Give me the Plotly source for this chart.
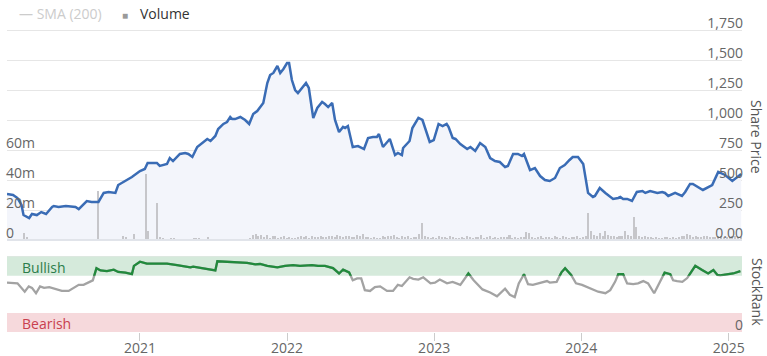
import plotly.graph_objects as go
import pandas as pd

# ---------------- data ----------------
price_dates = [
    "2020-02-06","2020-02-21","2020-03-03","2020-03-13","2020-03-18","2020-04-01","2020-04-08","2020-04-20",
    "2020-05-01","2020-05-13","2020-05-28","2020-06-01","2020-06-13","2020-07-01","2020-07-25","2020-08-02",
    "2020-08-22","2020-09-03","2020-09-20","2020-10-03","2020-10-15","2020-11-01","2020-11-08","2020-11-26",
    "2020-12-12","2021-01-01","2021-01-13","2021-01-20","2021-02-12","2021-02-19","2021-03-09","2021-03-16",
    "2021-03-24","2021-04-10","2021-04-23","2021-05-01","2021-05-11","2021-05-23","2021-06-04","2021-06-17",
    "2021-06-25","2021-07-07","2021-07-14","2021-07-27","2021-08-05","2021-08-13","2021-08-18","2021-08-25",
    "2021-09-07","2021-09-19","2021-09-29","2021-10-09","2021-10-19","2021-10-26","2021-11-03","2021-11-13",
    "2021-11-20","2021-11-28","2021-12-08","2021-12-15","2021-12-23","2022-01-01","2022-01-06","2022-01-13",
    "2022-01-21","2022-01-28","2022-02-07","2022-02-17","2022-02-24","2022-03-07","2022-03-17","2022-03-29",
    "2022-04-05","2022-04-13","2022-04-23","2022-04-30","2022-05-10","2022-05-20","2022-05-25","2022-06-01",
    "2022-06-13","2022-06-26","2022-07-11","2022-07-21","2022-08-02","2022-08-12","2022-08-17","2022-08-27",
    "2022-09-13","2022-09-26","2022-10-03","2022-10-13","2022-10-16","2022-11-01","2022-11-08","2022-11-23",
    "2022-12-03","2022-12-11","2022-12-21","2022-12-31","2023-01-12","2023-01-22","2023-02-01","2023-02-06",
    "2023-02-16","2023-02-23","2023-03-07","2023-03-24","2023-04-01","2023-04-13","2023-04-25","2023-05-08",
    "2023-05-20","2023-06-01","2023-06-13","2023-06-26","2023-07-03","2023-07-16","2023-07-28","2023-08-07",
    "2023-08-12","2023-08-27","2023-09-08","2023-09-21","2023-10-03","2023-10-15","2023-10-28","2023-11-09",
    "2023-11-21","2023-12-03","2023-12-11","2023-12-24","2024-01-03","2024-01-06","2024-01-18","2024-01-30",
    "2024-02-04","2024-02-16","2024-03-01","2024-03-20","2024-04-02","2024-04-07","2024-04-14","2024-04-24",
    "2024-05-06","2024-05-18","2024-06-01","2024-06-08","2024-06-20","2024-06-28","2024-07-08","2024-07-20",
    "2024-07-27","2024-08-04","2024-08-21","2024-09-07","2024-09-15","2024-09-27","2024-10-04","2024-10-29",
    "2024-11-21","2024-12-06","2024-12-23","2025-01-10","2025-01-22","2025-02-01",
]
price_values = [
    383, 375, 350, 292, 208, 183, 217, 208,
    233, 217, 275, 283, 275, 283, 275, 258,
    325, 317, 317, 392, 400, 392, 458, 492,
    525, 575, 592, 642, 642, 617, 633, 683,
    658, 717, 725, 717, 692, 775, 808, 842,
    825, 867, 925, 967, 983, 1025, 1008, 1008,
    1025, 1000, 967, 1050, 1075, 1108, 1142, 1308,
    1375, 1392, 1450, 1392, 1425, 1475, 1475, 1333,
    1250, 1225, 1267, 1308, 1267, 1017, 1100, 1150,
    1133, 1108, 1142, 1000, 900, 942, 933, 950,
    775, 783, 758, 850, 858, 858, 883, 775,
    842, 708, 725, 708, 767, 825, 933, 1017,
    1000, 917, 817, 833, 967, 950, 967, 942,
    850, 842, 800, 758, 775, 742, 808, 775,
    683, 658, 650, 608, 617, 717, 717, 700,
    717, 583, 600, 533, 500, 492, 517, 600,
    625, 667, 692, 692, 642, 633, 392, 358,
    367, 433, 392, 342, 350, 358, 342, 342,
    325, 400, 408, 392, 408, 400, 392, 400,
    392, 367, 392, 367, 400, 467, 467, 417,
    458, 567, 542, 492, 525, 550,
]

volume_start = "2020-02-07"   # weekly bars
volume_m = [
    0, 0, 0, 0, 0, 0, 4.7, 2.0, 0, 0,
    0, 0, 0, 0, 0, 0, 0, 0, 0, 0,
    0, 0, 0, 0, 0, 0, 0, 0, 0, 0,
    0, 0, 33, 0, 0, 0.6, 0, 0, 0, 0,
    0, 3.0, 2.2, 0, 0, 4.0, 0, 0, 0, 44,
    6.0, 0, 0, 25, 2.0, 1.0, 0, 0, 1.5, 1.2,
    0, 0, 0, 0, 0, 0, 1.0, 1.2, 0.8, 0,
    0, 2.0, 0, 0.5, 0, 0, 0, 0, 0, 0,
    0, 0, 0, 0, 0, 0, 1.5, 3.3, 4.0, 2.5,
    3.3, 2.0, 3.5, 1.5, 2.8, 3.0, 1.2, 2.0, 2.5, 1.5,
    2.0, 1.5, 1.2, 2.0, 2.5, 1.8, 2.5, 1.5, 3.0, 2.2,
    2.0, 2.5, 1.8, 2.2, 3.0, 2.5, 2.0, 3.2, 2.8, 2.0,
    2.5, 3.0, 2.2, 2.0, 3.5, 2.5, 4.0, 2.2, 2.0, 1.5,
    2.0, 1.0, 1.5, 2.5, 2.0, 3.0, 2.5, 3.5, 2.0, 1.5,
    3.0, 2.0, 2.5, 1.5, 1.8, 2.2, 4.0, 11.5, 2.5, 2.0,
    1.5, 2.0, 1.2, 2.5, 1.8, 2.0, 1.0, 2.5, 2.0, 1.5,
    1.2, 2.0, 1.5, 3.0, 1.8, 1.5, 2.0, 2.2, 3.5, 1.5,
    2.0, 3.0, 1.5, 2.0, 1.2, 1.8, 2.2, 2.0, 3.5, 1.5,
    2.0, 1.2, 1.8, 2.2, 5.5, 5.0, 2.0, 1.5, 1.8, 2.5,
    1.5, 2.0, 1.8, 1.2, 2.5, 2.0, 1.5, 3.0, 2.2, 1.5,
    2.0, 1.8, 2.5, 1.5, 2.0, 2.5, 18, 6.0, 3.5, 2.5,
    4.5, 3.0, 6.0, 3.5, 2.5, 3.0, 2.2, 3.0, 2.5, 6.0,
    3.5, 2.5, 15.5, 9.0, 3.0, 2.0, 2.5, 1.8, 2.0, 1.5,
    2.0, 1.5, 1.2, 2.0, 1.8, 1.5, 2.2, 1.5, 2.0, 2.5,
    3.0, 4.0, 3.5, 2.0, 2.5, 1.8, 2.0, 3.0, 2.5, 2.2,
    2.0, 1.8, 2.5, 3.0, 2.0, 2.2, 1.8, 2.5, 3.0, 2.0, 2.2,
]
volume_dates = pd.date_range(volume_start, periods=len(volume_m), freq="7D")
volume_values = [v * 1e6 for v in volume_m]

rank_dates = [
    "2020-02-06","2020-03-03","2020-03-21","2020-03-31","2020-04-08","2020-04-18","2020-04-28","2020-05-08",
    "2020-05-21","2020-06-01","2020-06-21","2020-07-08","2020-07-21","2020-08-02","2020-08-14","2020-08-27",
    "2020-09-06","2020-09-15","2020-09-25","2020-10-11","2020-10-28","2020-11-08","2020-11-26","2020-12-12",
    "2020-12-17","2021-01-01","2021-01-18","2021-02-12","2021-03-09","2021-04-03","2021-05-06","2021-05-13",
    "2021-06-07","2021-07-07","2021-07-12","2021-08-21","2021-09-24","2021-10-14","2021-10-26","2021-11-13",
    "2021-12-08","2021-12-27","2022-01-16","2022-02-02","2022-03-04","2022-03-19","2022-04-05","2022-04-25",
    "2022-05-10","2022-05-20","2022-06-04","2022-06-13","2022-06-24","2022-07-04","2022-07-13","2022-07-26",
    "2022-08-07","2022-08-20","2022-09-06","2022-09-21","2022-10-03","2022-10-13","2022-11-01","2022-11-10",
    "2022-11-23","2022-12-05","2022-12-23","2023-01-03","2023-01-15","2023-02-02","2023-02-16","2023-03-07",
    "2023-03-27","2023-04-09","2023-05-01","2023-05-20","2023-06-06","2023-06-26","2023-07-08","2023-07-20",
    "2023-07-30","2023-08-12","2023-08-22","2023-09-03","2023-09-21","2023-10-08","2023-10-15","2023-11-01",
    "2023-11-13","2023-11-22","2023-12-07","2023-12-19","2024-01-03","2024-01-23","2024-02-12","2024-03-01",
    "2024-03-13","2024-03-25","2024-04-02","2024-04-14","2024-04-24","2024-05-09","2024-05-21","2024-06-03",
    "2024-06-15","2024-06-30","2024-07-12","2024-07-26","2024-08-09","2024-08-16","2024-08-26","2024-09-08",
    "2024-09-20","2024-10-10","2024-10-27","2024-11-11","2024-11-24","2024-12-04","2024-12-11","2024-12-28",
    "2025-01-12","2025-01-30",
]
rank_values = [
    65, 64, 53, 60, 58, 51, 60, 58,
    59, 57, 54, 54, 58, 62, 62, 66,
    68, 84, 81, 80, 82, 79, 78, 76,
    87, 92.5, 90, 90, 90, 88, 85, 86,
    84, 81, 93, 92, 91, 89, 89.5, 87,
    85, 87, 88, 87, 88, 87, 87, 84,
    77, 82, 78.5, 68, 70.5, 70.5, 55, 54,
    59, 60, 54, 54, 62, 60.5, 72, 70,
    69, 72, 64, 65, 69, 64, 66, 62,
    77, 68, 56, 52, 47, 57, 49, 46,
    64, 76, 63, 62, 65, 67, 65, 66,
    78.5, 84, 75, 64, 62, 58, 53, 51,
    55, 66, 76, 76, 64, 63, 64, 67,
    64, 51, 64, 78, 76, 68, 67, 66,
    71, 87, 81.5, 77, 81.5, 75, 74.5, 76,
    77, 80,
]

bullish_band = [74, 100]
bearish_band = [0, 25]

price_ticks = [0, 250, 500, 750, 1000, 1250, 1500, 1750]
price_tick_text = ["0.00", "250", "500", "750", "1,000", "1,250", "1,500", "1,750"]
volume_ticks = [0, 20e6, 40e6, 60e6]
volume_tick_text = ["0", "20m", "40m", "60m"]
rank_ticks = [0]
rank_tick_text = ["0"]
year_ticks = ["2021-01-01", "2022-01-01", "2023-01-01", "2024-01-01", "2025-01-01"]
year_text = ["2021", "2022", "2023", "2024", "2025"]

# ---------------- layout geometry ----------------
W, H = 767, 356
def py(px):
    return 1 - px / H

XDOM = [7 / W, 742 / W]
XRANGE = ["2020-02-06", "2025-02-03"]
FONT = "Open Sans"
LABEL_COLOR = "#666666"

# price panel: value 0 at pixel 240, 1750 at pixel 30; domain padded so edge labels stay visible
PRICE_TOP_PX, PRICE_BOT_PX = 4, 247
PX_PER_PRICE = (240 - 30) / 1750
PRICE_MAX = 1750 + (30 - PRICE_TOP_PX) / PX_PER_PRICE
PRICE_MIN = -(PRICE_BOT_PX - 240) / PX_PER_PRICE
PX_PER_VOL = (240 - 30) / 140e6
VOL_MAX = 140e6 + (30 - PRICE_TOP_PX) / PX_PER_VOL
VOL_MIN = -(PRICE_BOT_PX - 240) / PX_PER_VOL

# rank panel: 0 at 332, 100 at 256
RANK_PX_PER = (332 - 256) / 100
RANK_LABEL_BOT_PX = 340
RANK_LABEL_MIN = -(RANK_LABEL_BOT_PX - 332) / RANK_PX_PER

fig = go.Figure()

fig.add_trace(go.Scatter(x=price_dates, y=price_values, mode="lines",
                         line=dict(width=0, color="rgba(0,0,0,0)"),
                         fill="tozeroy", fillcolor="#f3f5fb",
                         xaxis="x", yaxis="y", hoverinfo="skip", showlegend=False))
fig.add_trace(go.Bar(x=volume_dates, y=volume_values, marker=dict(color="#c6c6ca", line=dict(width=0)),
                     width=5 * 86400000, xaxis="x", yaxis="y2", showlegend=False))
fig.add_trace(go.Scatter(x=price_dates, y=price_values, mode="lines",
                         line=dict(width=2.5, color="#3a6cb5"),
                         xaxis="x", yaxis="y3", showlegend=False))
fig.add_trace(go.Scatter(x=rank_dates, y=rank_values, mode="lines",
                         line=dict(width=2.3, color="#a3a3a3"),
                         xaxis="x2", yaxis="y4", showlegend=False))
fig.add_trace(go.Scatter(x=rank_dates, y=rank_values, mode="lines",
                         line=dict(width=2.3, color="#218a3c"),
                         xaxis="x2", yaxis="y5", showlegend=False))
# invisible carrier so the rank label axis is drawn
fig.add_trace(go.Scatter(x=[rank_dates[0]], y=[rank_values[0]], mode="lines",
                         line=dict(width=0, color="rgba(0,0,0,0)"), hoverinfo="skip",
                         xaxis="x2", yaxis="y6", showlegend=False))

price_dom = [py(PRICE_BOT_PX), py(PRICE_TOP_PX)]
rank_dom = [py(332), py(256)]
band_px = 332 - bullish_band[0] * RANK_PX_PER
green_dom = [py(band_px), py(256)]
rank_label_dom = [py(RANK_LABEL_BOT_PX), py(256)]

fig.update_layout(
    width=W, height=H, margin=dict(l=0, r=0, t=0, b=0, autoexpand=False),
    paper_bgcolor="white", plot_bgcolor="rgba(0,0,0,0)",
    font=dict(family=FONT, size=14, color=LABEL_COLOR),
    bargap=0,
    xaxis=dict(domain=XDOM, range=XRANGE, type="date", anchor="y",
               showticklabels=False, showgrid=False, zeroline=False, showline=False),
    yaxis=dict(domain=price_dom, range=[PRICE_MIN, PRICE_MAX], side="right", anchor="x",
               tickvals=price_ticks, ticktext=price_tick_text,
               ticklabelposition="inside top", ticks="", ticklabelstandoff=-4, ticklabelshift=3,
               showgrid=True, gridcolor="#e6e6e6", gridwidth=1, zeroline=False,
               tickfont=dict(size=14, color=LABEL_COLOR)),
    yaxis2=dict(overlaying="y", range=[VOL_MIN, VOL_MAX], side="left", anchor="x",
                tickvals=volume_ticks, ticktext=volume_tick_text,
                ticklabelposition="inside top", ticks="", ticklabelstandoff=-4, ticklabelshift=3,
                showgrid=False, zeroline=False,
                tickfont=dict(size=14, color=LABEL_COLOR)),
    yaxis3=dict(overlaying="y", range=[PRICE_MIN, PRICE_MAX], side="right", anchor="x",
                showticklabels=False, showgrid=False, zeroline=False),
    xaxis2=dict(domain=XDOM, range=XRANGE, type="date", anchor="y4",
                tickvals=year_ticks, ticktext=year_text,
                ticks="outside", ticklen=8, tickcolor="#cccccc", tickwidth=1,
                ticklabelstandoff=-5,
                showgrid=False, zeroline=False, showline=False,
                tickfont=dict(size=14, color=LABEL_COLOR)),
    yaxis4=dict(domain=rank_dom, range=[0, 100], side="right", anchor="x2",
                showticklabels=False, ticks="", showgrid=False, zeroline=False),
    yaxis5=dict(domain=green_dom, range=[bullish_band[0], 100], anchor="x2",
                showticklabels=False, showgrid=False, zeroline=False),
    yaxis6=dict(domain=rank_label_dom, range=[RANK_LABEL_MIN, 100], side="right", anchor="x2",
                tickvals=rank_ticks, ticktext=rank_tick_text, ticklabelposition="inside top", ticks="",
                ticklabelstandoff=-4, ticklabelshift=3,
                showgrid=False, zeroline=False,
                tickfont=dict(size=14, color=LABEL_COLOR)),
)

shapes = [
    dict(type="rect", xref="x2 domain", yref="y4", x0=0, x1=1, y0=bullish_band[0], y1=bullish_band[1],
         fillcolor="#d5eadb", line=dict(width=0), layer="below"),
    dict(type="rect", xref="x2 domain", yref="y4", x0=0, x1=1, y0=bearish_band[0], y1=bearish_band[1],
         fillcolor="#f6d9dc", line=dict(width=0), layer="below"),
    dict(type="line", xref="x2 domain", yref="y4", x0=0, x1=1, y0=100, y1=100,
         line=dict(color="#e6e6e6", width=1)),
    dict(type="line", xref="x domain", yref="y", x0=0, x1=1, y0=0, y1=0,
         line=dict(color="#e1e4ea", width=2)),
]
fig.update_layout(shapes=shapes)

annotations = [
    dict(text="— SMA (200)", x=17 / W, y=py(13), xref="paper", yref="paper", xanchor="left", yanchor="middle",
         showarrow=False, font=dict(size=14, color="#cccccc", family=FONT)),
    dict(text="■", x=120 / W, y=py(14.5), xref="paper", yref="paper", xanchor="left", yanchor="middle",
         showarrow=False, font=dict(size=10, color="#9a9a9a", family=FONT)),
    dict(text="Volume", x=138 / W, y=py(13), xref="paper", yref="paper", xanchor="left", yanchor="middle",
         showarrow=False, font=dict(size=14, color="#333333", family=FONT)),
    dict(text="Bullish", x=20 / W, y=py(267), xref="paper", yref="paper", xanchor="left", yanchor="middle",
         showarrow=False, font=dict(size=14, color="#2c7d4a", family=FONT)),
    dict(text="Bearish", x=20 / W, y=py(323), xref="paper", yref="paper", xanchor="left", yanchor="middle",
         showarrow=False, font=dict(size=14, color="#c9404e", family=FONT)),
    dict(text="Share Price", x=757 / W, y=py(137), xref="paper", yref="paper", xanchor="center", yanchor="middle",
         textangle=90, showarrow=False, font=dict(size=14, color="#555555", family=FONT)),
    dict(text="StockRank", x=758 / W, y=py(292), xref="paper", yref="paper", xanchor="center", yanchor="middle",
         textangle=90, showarrow=False, font=dict(size=14, color="#555555", family=FONT)),
]
fig.update_layout(annotations=annotations)

fig.write_html("out.html", config={"displayModeBar": False},
               post_script="document.body.style.margin='0';document.body.style.padding='0';")
